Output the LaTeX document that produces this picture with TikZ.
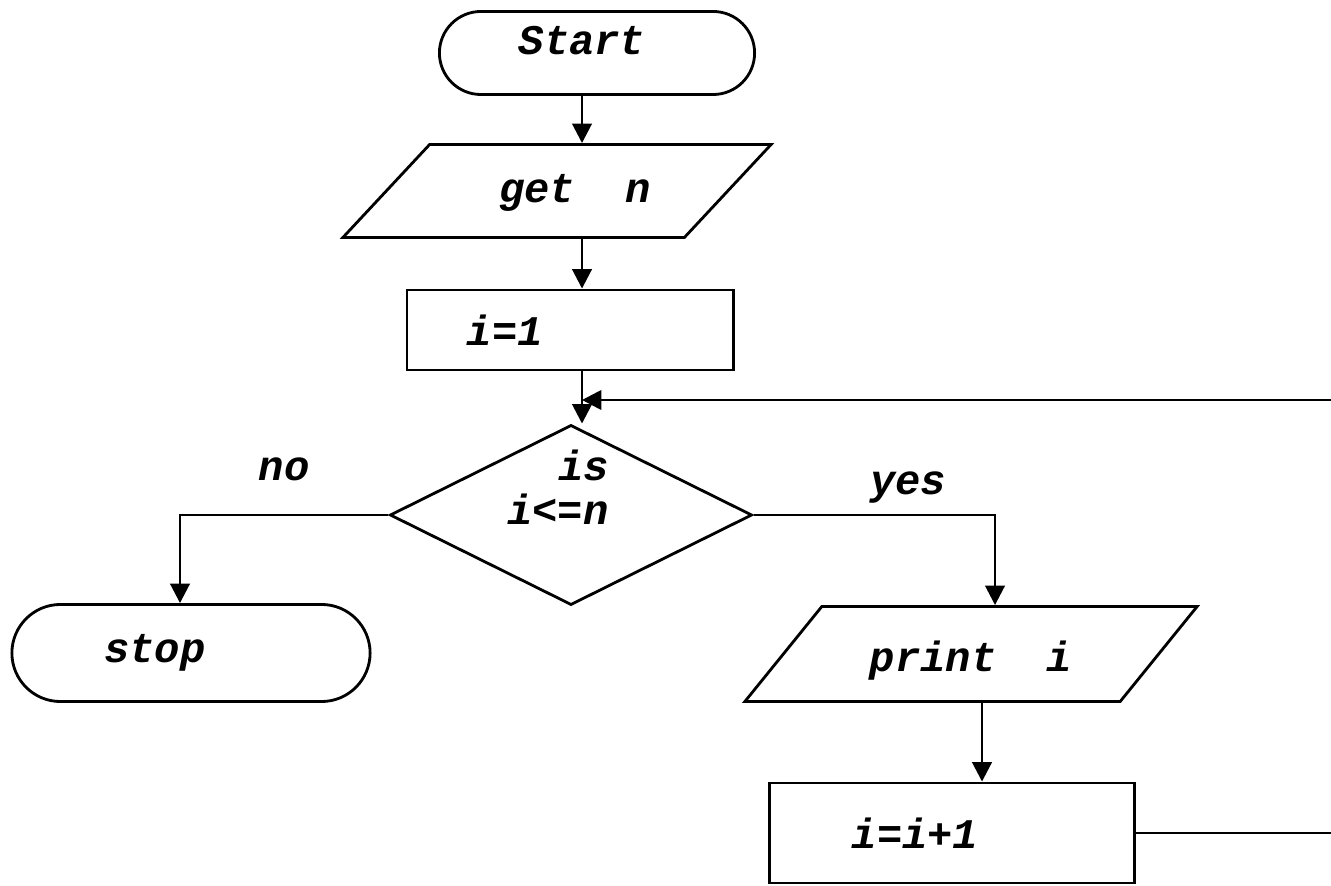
\documentclass[tikz,border=0pt]{standalone}
\usepackage{fontspec}
\setmonofont{Liberation Mono}
\usetikzlibrary{arrows.meta,shapes.geometric}
\tikzset{
	flow/.style={draw, line width=0.8pt, inner sep=0pt, font=\ttfamily\bfseries\itshape\fontsize{12}{15}\selectfont},
	terminal/.style={flow, rectangle, rounded corners=#1},
	process/.style={flow, rectangle},
	inout/.style={flow, trapezium, trapezium stretches body, trapezium left angle=#1, trapezium right angle=180-#1},
	decision/.style={flow, diamond},
	line/.style={line width=0.8pt},
	arrow/.style={line, -{Triangle[width=5.5pt,length=5.5pt]}},
	answer/.style={inner sep=0pt, font=\ttfamily\bfseries\itshape\fontsize{12}{15}\selectfont}
}

\begin{document}
\begin{tikzpicture}[x=0.01cm, y=-0.01cm]
			%%%%% START %%%%%
			\useasboundingbox (0,0) rectangle (1331,886);
			
			\node[terminal=4.15mm, minimum width=3.15cm, minimum height=0.83cm] (start) at (597,53) {\raisebox{2.6mm}{Start}\hspace*{3mm}};
			\node[inout=47, text height=0.58cm, text depth=0.35cm, minimum width=4.28cm] (getn) at (557,191) {\hspace*{3.6mm}get~~n};
			\node[process, minimum width=3.26cm, minimum height=0.8cm] (fix) at (570,330) {i=1\hspace*{1.3cm}};
			\node[decision, minimum width=3.62cm, minimum height=1.8cm] (test) at (571,515) {\smash{\raisebox{1.1mm}{\renewcommand\arraystretch{0.8}\begin{tabular}{@{}r@{}}is\\i<=n\end{tabular}}}\hspace*{2.6mm}};
			
			\node[terminal=4.85mm, minimum width=3.58cm, minimum height=0.97cm] (stop) at (191,653) {stop\hspace*{7.2mm}};
			\node[inout=51, text height=0.65cm, text depth=0.30cm, minimum width=4.52cm] (show) at (971,654) {print~~i};
			\node[process, minimum width=3.65cm, minimum height=1.0cm] (inc) at (952,833) {i=i+1\hspace*{7.4mm}};
			
			\coordinate (spine) at (582,0);
			\coordinate (nocol) at (180,0);
			\coordinate (yescol) at (995,0);
			\coordinate (rcol) at (982,0);
			\coordinate (edge) at (1345,0); % loop goes on past the border
			\coordinate (back) at (582,400);
			
			\draw[arrow] (start.south -| spine) -- (getn.north -| spine);
			\draw[arrow] (getn.south -| spine) -- (fix.north -| spine);
			\draw[arrow] (fix.south -| spine) -- (test.north -| spine);
			
			\draw[arrow] (test.west) -| node[answer, pos=0.25, above=3.3mm] {no} (stop.north -| nocol);
			\draw[arrow] (test.east) -| node[answer, pos=0.32, above=1mm] {yes} (show.north -| yescol);
			\draw[arrow] (show.south -| rcol) -- (inc.north -| rcol);
			
			\draw[arrow] (inc.east) -- (inc.east -| edge) |- (back);
			%%%%% END %%%%%
\end{tikzpicture}
\end{document}
